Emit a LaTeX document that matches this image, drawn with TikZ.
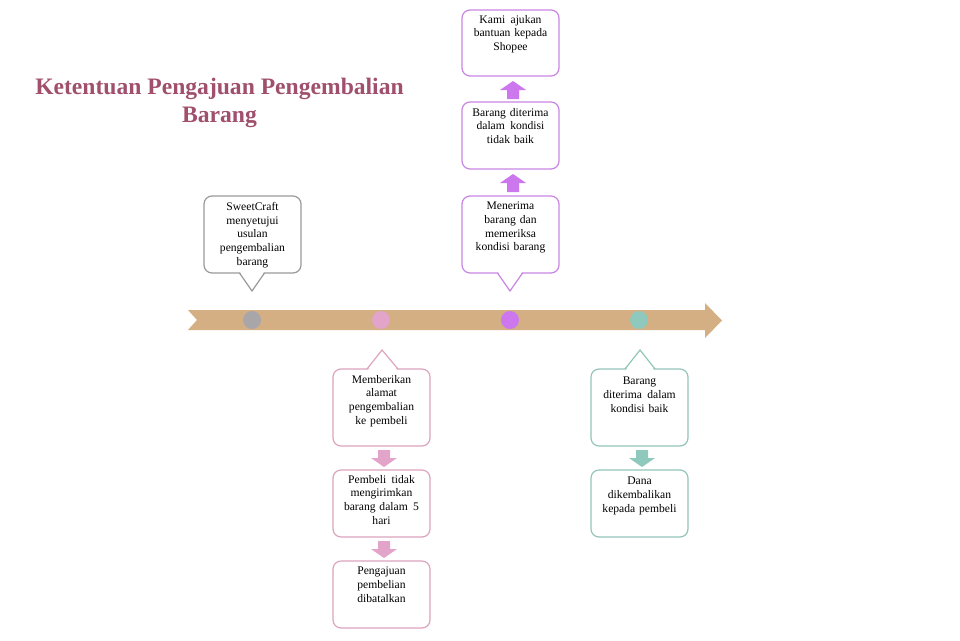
\documentclass[tikz,border=0pt]{standalone}
\usepackage{fontspec}
\setmainfont{Liberation Serif}
\definecolor{band}{HTML}{D5AF84}
\definecolor{grayc}{HTML}{A8A6A8}
\definecolor{pinkc}{HTML}{E2A4C8}
\definecolor{purpc}{HTML}{CC77EE}
\definecolor{tealc}{HTML}{8FC9BE}
\definecolor{grayb}{HTML}{9A9A9A}
\definecolor{pinkb}{HTML}{DDA4BE}
\definecolor{purpb}{HTML}{C886E2}
\definecolor{tealb}{HTML}{92C6BA}
\definecolor{titlec}{HTML}{A0506C}
\newcommand{\wsp}{\hspace{1.5pt} }
\tikzset{
  boxtext/.style={anchor=north, inner sep=0pt, text width=90pt, align=center,
    font=\fontsize{11.6}{13.7}\selectfont},
  plainbox/.style={draw, line width=1.2pt, rounded corners=8pt},
  dotc/.style={circle, minimum size=18pt, inner sep=0pt},
  ptr/.style={line width=1.2pt, line join=miter},
}
\begin{document}
\begin{tikzpicture}[x=1pt,y=-1pt]
\useasboundingbox (0,0) rectangle (960,640);
\fill[white] (0,0) rectangle (960,640);

% title
\node[align=center, text=titlec, font=\fontsize{23.6}{28}\bfseries\selectfont] (title) at (219.5,103) {Ketentuan Pengajuan Pengembalian\\Barang};

% timeline band
\fill[band] (188,310) -- (705,310) -- (705,303) -- (722,320.5) -- (705,338) -- (705,330) -- (188,330) -- (197,320) -- cycle;

% dots
\node[dotc, fill=grayc] (d1) at (252,320) {};
\node[dotc, fill=pinkc] (d2) at (381,320) {};
\node[dotc, fill=purpc] (d3) at (510,320) {};
\node[dotc, fill=tealc] (d4) at (639,320) {};

% ---- callout 1 (gray, down pointer)
\draw[plainbox, grayb] (204,196) rectangle (301,273);
\fill[white] (240,272) -- (264,272) -- (252,289) -- cycle;
\draw[ptr, grayb] (239.5,273) -- (252,291) -- (264.5,273);
\node[boxtext] (t1) at (252.5,202) {SweetCraft\\menyetujui\\usulan\\pengembalian\\barang};

% ---- callout 2 (pink, up pointer)
\draw[plainbox, pinkb] (333,369) rectangle (430,446);
\fill[white] (368,370) -- (397,370) -- (382,352) -- cycle;
\draw[ptr, pinkb] (367,369) -- (382,350) -- (398,369);
\node[boxtext] (t2) at (381.5,375) {Memberikan\\alamat\\pengembalian\\ke pembeli};

\draw[plainbox, pinkb] (333,470) rectangle (430,537);
\node[boxtext] (t3) at (381.5,475) {Pembeli\wsp tidak\\mengirimkan\\barang dalam\wsp 5\\hari};

\draw[plainbox, pinkb] (333,561) rectangle (430,628);
\node[boxtext] (t4) at (381.5,567) {Pengajuan\\pembelian\\dibatalkan};

% ---- callout 3 (purple, down pointer)
\draw[plainbox, purpb] (462,196) rectangle (559,273);
\fill[white] (498,272) -- (522,272) -- (510,289) -- cycle;
\draw[ptr, purpb] (497.5,273) -- (510,291) -- (522.5,273);
\node[boxtext] (t5) at (510.5,202) {Menerima\\barang dan\\memeriksa\\kondisi barang};

\draw[plainbox, purpb] (462,102) rectangle (559,169);
\node[boxtext] (t6) at (510.5,108) {Barang diterima\\dalam\wsp kondisi\\tidak baik};

\draw[plainbox, purpb] (462,10) rectangle (559,76);
\node[boxtext] (t7) at (510.5,15) {Kami\wsp ajukan\\bantuan kepada\\Shopee};

% ---- callout 4 (teal, up pointer)
\draw[plainbox, tealb] (591,369) rectangle (688,446);
\fill[white] (626,370) -- (654,370) -- (640,352) -- cycle;
\draw[ptr, tealb] (625,369) -- (640,350) -- (655,369);
\node[boxtext] (t8) at (639.5,377) {Barang\\diterima\wsp dalam\\kondisi baik};

\draw[plainbox, tealb] (591,470) rectangle (688,537);
\node[boxtext] (t9) at (639.5,477) {Dana\\dikembalikan\\kepada pembeli};

% ---- block arrows
\fill[pinkc] (378,450) -- (390,450) -- (390,458) -- (397,458) -- (384,467) -- (371,458) -- (378,458) -- cycle;
\fill[pinkc] (378,541) -- (390,541) -- (390,549) -- (397,549) -- (384,558) -- (371,549) -- (378,549) -- cycle;
\fill[purpc] (507,192) -- (519,192) -- (519,183) -- (526,183) -- (513,174) -- (500,183) -- (507,183) -- cycle;
\fill[purpc] (507,99) -- (519,99) -- (519,90) -- (526,90) -- (513,81) -- (500,90) -- (507,90) -- cycle;
\fill[tealc] (636,450) -- (648,450) -- (648,458) -- (655,458) -- (642,467) -- (629,458) -- (636,458) -- cycle;
\end{tikzpicture}
\end{document}
